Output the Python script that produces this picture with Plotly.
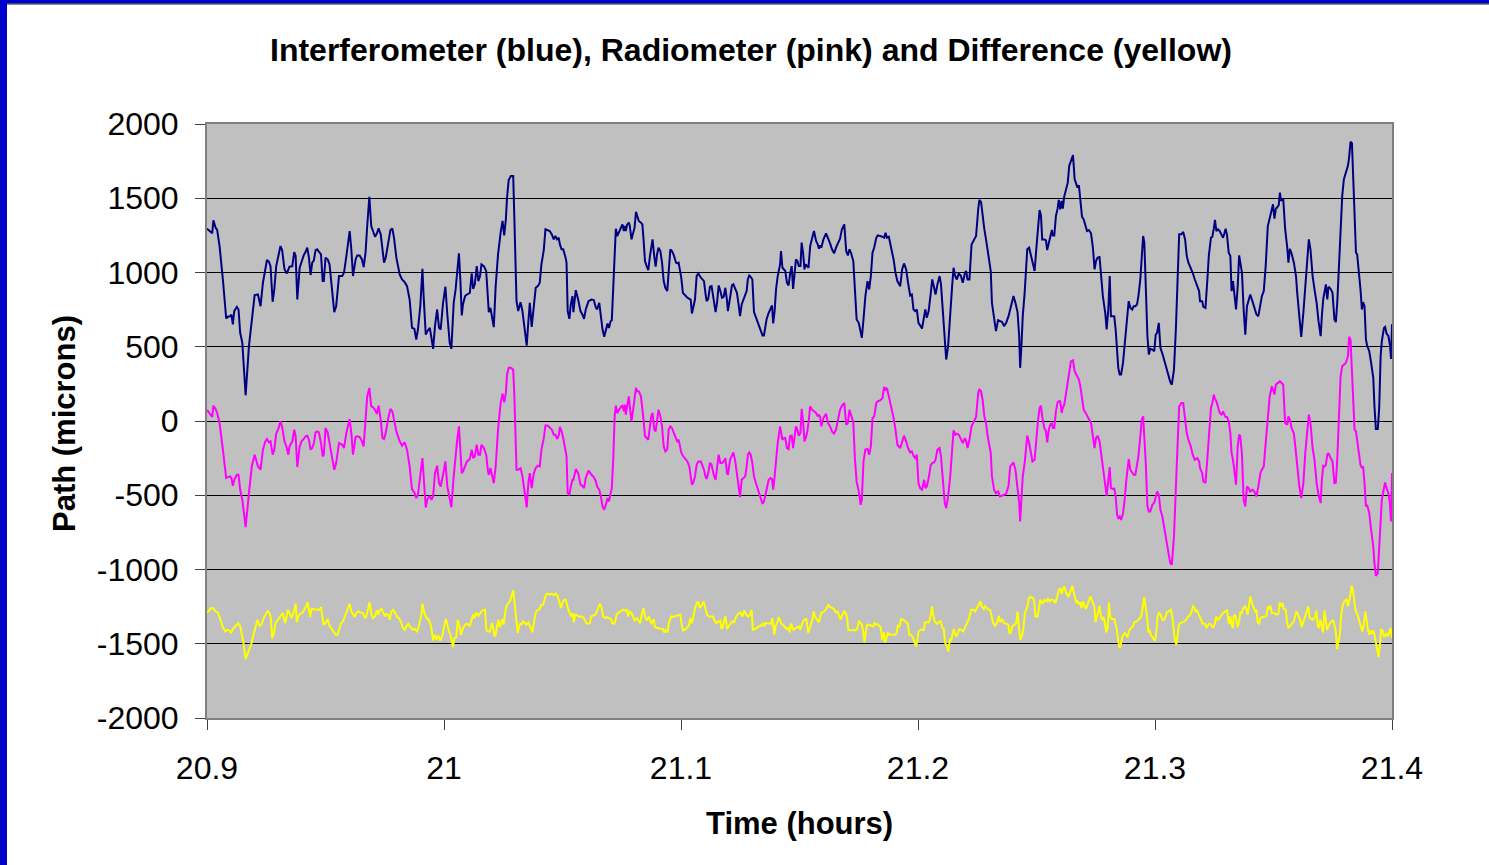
import plotly.graph_objects as go

# Sample times (hours) shared by the interferometer and radiometer traces
time_hours = [
    20.9000, 20.9022, 20.9027, 20.9036, 20.9043, 20.9053, 20.9067, 20.9081, 20.9088, 20.9098,
    20.9103, 20.9109, 20.9115, 20.9126, 20.9133, 20.9140, 20.9149, 20.9163, 20.9177, 20.9189,
    20.9201, 20.9215, 20.9226, 20.9236, 20.9246, 20.9253, 20.9261, 20.9268, 20.9277, 20.9284,
    20.9292, 20.9301, 20.9310, 20.9317, 20.9327, 20.9337, 20.9343, 20.9348, 20.9360, 20.9368,
    20.9374, 20.9381, 20.9391, 20.9399, 20.9408, 20.9416, 20.9423, 20.9430, 20.9437, 20.9444,
    20.9451, 20.9458, 20.9465, 20.9472, 20.9481, 20.9488, 20.9493, 20.9500, 20.9509, 20.9517,
    20.9529, 20.9537, 20.9545, 20.9557, 20.9571, 20.9578, 20.9588, 20.9602, 20.9609, 20.9616,
    20.9627, 20.9634, 20.9644, 20.9654, 20.9661, 20.9669, 20.9676, 20.9685, 20.9693, 20.9700,
    20.9709, 20.9717, 20.9724, 20.9733, 20.9740, 20.9747, 20.9754, 20.9765, 20.9774, 20.9782,
    20.9789, 20.9799, 20.9813, 20.9823, 20.9834, 20.9844, 20.9855,
    20.9865, 20.9875, 20.9883, 20.9890, 20.9900, 20.9909, 20.9914, 20.9923, 20.9930, 20.9940,
    20.9947, 20.9954, 20.9962, 20.9971, 20.9979, 20.9986, 20.9996, 21.0006, 21.0014, 21.0024,
    21.0031, 21.0041, 21.0049, 21.0055, 21.0063, 21.0069, 21.0075, 21.0080, 21.0089, 21.0097,
    21.0109, 21.0117, 21.0123, 21.0130, 21.0138, 21.0145, 21.0152, 21.0158, 21.0168, 21.0178,
    21.0185, 21.0189, 21.0196, 21.0203, 21.0210, 21.0218, 21.0228, 21.0239, 21.0247, 21.0254,
    21.0261, 21.0266, 21.0273, 21.0282, 21.0292, 21.0297, 21.0306, 21.0313, 21.0323, 21.0331,
    21.0341, 21.0349, 21.0356, 21.0362, 21.0370, 21.0379, 21.0387, 21.0396, 21.0404, 21.0411,
    21.0421, 21.0428, 21.0437, 21.0446, 21.0455, 21.0463, 21.0470, 21.0477, 21.0484, 21.0489,
    21.0496, 21.0503, 21.0513, 21.0517, 21.0522, 21.0529, 21.0535, 21.0542, 21.0546, 21.0556,
    21.0566, 21.0576, 21.0584, 21.0591, 21.0598, 21.0610, 21.0622, 21.0632, 21.0641, 21.0646,
    21.0655, 21.0662, 21.0669, 21.0676, 21.0683, 21.0690, 21.0696, 21.0700,
    21.0703, 21.0708, 21.0714, 21.0720, 21.0725, 21.0731, 21.0739, 21.0748, 21.0753, 21.0759,
    21.0763, 21.0767, 21.0773, 21.0780, 21.0784, 21.0791, 21.0798, 21.0804, 21.0810, 21.0815,
    21.0822, 21.0831, 21.0837, 21.0842, 21.0848, 21.0855, 21.0862, 21.0869, 21.0874, 21.0880,
    21.0887, 21.0893, 21.0899, 21.0905, 21.0913, 21.0920, 21.0927, 21.0934, 21.0942, 21.0948,
    21.0955, 21.0962, 21.0970, 21.0979, 21.0984, 21.0990, 21.0996, 21.1001, 21.1008, 21.1017,
    21.1027, 21.1035, 21.1041, 21.1046, 21.1052, 21.1059, 21.1066, 21.1073, 21.1084, 21.1097,
    21.1103, 21.1108, 21.1115, 21.1122, 21.1129, 21.1138, 21.1146, 21.1152, 21.1159, 21.1166,
    21.1173, 21.1180, 21.1187, 21.1194, 21.1198, 21.1207, 21.1215, 21.1221, 21.1229, 21.1236,
    21.1243, 21.1249, 21.1256, 21.1263, 21.1271, 21.1277, 21.1282, 21.1288, 21.1294, 21.1301,
    21.1308, 21.1316, 21.1326, 21.1336, 21.1344, 21.1350, 21.1355, 21.1361, 21.1370, 21.1378,
    21.1384, 21.1389, 21.1395, 21.1401, 21.1408, 21.1418, 21.1422, 21.1428, 21.1435, 21.1440,
    21.1447, 21.1454, 21.1460, 21.1467, 21.1473, 21.1480, 21.1485, 21.1491, 21.1497, 21.1504,
    21.1509, 21.1515, 21.1521, 21.1526, 21.1532, 21.1538, 21.1545,
    21.1553, 21.1561, 21.1570, 21.1577, 21.1582, 21.1587, 21.1592, 21.1601, 21.1612, 21.1620,
    21.1629, 21.1637, 21.1646, 21.1654, 21.1663, 21.1671, 21.1679, 21.1689, 21.1697, 21.1704,
    21.1711, 21.1718, 21.1727, 21.1734, 21.1741, 21.1750, 21.1758, 21.1763, 21.1770, 21.1778,
    21.1787, 21.1794, 21.1801, 21.1808, 21.1815, 21.1824, 21.1830, 21.1840, 21.1850, 21.1857,
    21.1863, 21.1869, 21.1877, 21.1885, 21.1897, 21.1905, 21.1913, 21.1925, 21.1933, 21.1941,
    21.1950, 21.1958, 21.1967, 21.1974, 21.1981, 21.1988, 21.1995, 21.2002, 21.2009, 21.2017,
    21.2026, 21.2031, 21.2037, 21.2045, 21.2054, 21.2060, 21.2068, 21.2074, 21.2082, 21.2091,
    21.2097, 21.2105, 21.2113, 21.2119, 21.2127, 21.2136, 21.2144, 21.2150, 21.2157, 21.2164,
    21.2172, 21.2181, 21.2189, 21.2198, 21.2203, 21.2209, 21.2217, 21.2226, 21.2237, 21.2245,
    21.2254, 21.2259, 21.2266, 21.2273, 21.2280, 21.2287, 21.2294, 21.2301, 21.2307, 21.2312,
    21.2321, 21.2329, 21.2338, 21.2346, 21.2355, 21.2363, 21.2372, 21.2382, 21.2389,
    21.2403, 21.2411, 21.2420, 21.2427, 21.2431, 21.2437, 21.2442, 21.2450, 21.2455, 21.2461,
    21.2469, 21.2476, 21.2483, 21.2492, 21.2499, 21.2506, 21.2513, 21.2519, 21.2524, 21.2533,
    21.2540, 21.2545, 21.2552, 21.2558, 21.2565, 21.2569, 21.2575, 21.2582, 21.2589, 21.2594,
    21.2600, 21.2606, 21.2611, 21.2617, 21.2625, 21.2632, 21.2638, 21.2645, 21.2654, 21.2661,
    21.2668, 21.2673, 21.2679, 21.2685, 21.2692, 21.2699, 21.2706, 21.2713, 21.2721, 21.2730,
    21.2738, 21.2745, 21.2751, 21.2758, 21.2766, 21.2772, 21.2780, 21.2790, 21.2796, 21.2803,
    21.2809, 21.2814, 21.2823, 21.2828, 21.2834, 21.2840, 21.2845, 21.2851, 21.2857, 21.2865,
    21.2872, 21.2879, 21.2889, 21.2896, 21.2904, 21.2910, 21.2917, 21.2924, 21.2930, 21.2938,
    21.2944, 21.2950, 21.2955, 21.2961, 21.2968, 21.2974, 21.2980, 21.2989, 21.2997, 21.3003,
    21.3009, 21.3016, 21.3023, 21.3031, 21.3040, 21.3048, 21.3057, 21.3065, 21.3071, 21.3080,
    21.3088, 21.3095, 21.3102, 21.3111, 21.3119, 21.3127, 21.3134, 21.3141, 21.3151, 21.3159,
    21.3168, 21.3179, 21.3186, 21.3190, 21.3199, 21.3204, 21.3213, 21.3221, 21.3227, 21.3236,
    21.3242, 21.3248, 21.3253, 21.3259, 21.3266, 21.3273, 21.3281, 21.3287, 21.3293, 21.3298,
    21.3304, 21.3311, 21.3318, 21.3323, 21.3329, 21.3335, 21.3342, 21.3349, 21.3355, 21.3360,
    21.3367, 21.3374, 21.3381, 21.3388, 21.3395, 21.3402, 21.3411, 21.3419, 21.3428, 21.3436,
    21.3445, 21.3451, 21.3459, 21.3467, 21.3476, 21.3484, 21.3493, 21.3498, 21.3504, 21.3510,
    21.3515, 21.3522, 21.3527, 21.3532, 21.3541, 21.3549, 21.3558, 21.3563, 21.3569, 21.3576,
    21.3586, 21.3595, 21.3600, 21.3609, 21.3617, 21.3626, 21.3634, 21.3642, 21.3649, 21.3656,
    21.3665, 21.3673, 21.3682, 21.3690, 21.3699, 21.3704, 21.3710, 21.3716, 21.3721, 21.3727,
    21.3732, 21.3741, 21.3749, 21.3757, 21.3763, 21.3769, 21.3774, 21.3783, 21.3790, 21.3797,
    21.3805, 21.3814, 21.3819, 21.3825, 21.3831, 21.3836, 21.3842, 21.3848, 21.3853, 21.3860,
    21.3867, 21.3873, 21.3878, 21.3884, 21.3890, 21.3895, 21.3904, 21.3912, 21.3921, 21.3926,
    21.3932, 21.3940, 21.3946, 21.3952, 21.3957, 21.3966, 21.3971, 21.3977, 21.3985, 21.3991,
    21.3996, 21.4000,
]

# Interferometer path (microns)
interferometer = [
    1295, 1264, 1351, 1302, 1286, 1178, 953, 690, 702, 706,
    717, 650, 740, 769, 751, 594, 526, 173, 504, 684,
    848, 852, 773, 931, 1021, 1084, 1073, 1043, 803, 886,
    1043, 1115, 1178, 1151, 1021, 994, 1021, 1039, 1043, 1138,
    1111, 818, 1032, 1077, 1115, 1140, 1167, 1100, 983, 1066,
    1082, 1151, 1156, 1140, 1122, 942, 942, 1100, 1088, 1055,
    886, 733, 773, 976, 976, 998, 1111, 1279, 1156, 976,
    1088, 1115, 1115, 1088, 1037, 1133, 1313, 1509, 1313, 1284,
    1241, 1264, 1297, 1257, 1156, 1066, 1100, 1189, 1286, 1297,
    1234, 1100, 987, 953, 935, 908, 818,
    627, 621, 549, 616, 773, 1025, 841, 582, 605, 627,
    560, 486, 639, 751, 627, 616, 796, 904, 717, 526,
    486, 796, 886, 976, 1129, 953, 711, 785, 841, 852,
    863, 994, 890, 920, 1043, 942, 976, 1055, 1043, 1010,
    796, 733, 762, 706, 632, 908, 1122, 1268, 1347, 1250,
    1358, 1504, 1623, 1650, 1650, 1358, 807, 740, 800, 740,
    616, 508, 672, 796, 634, 796, 897, 908, 931, 1055,
    1151, 1291, 1286, 1279, 1257, 1223, 1246, 1223, 1234, 1189,
    1156, 1156, 1100, 1066, 740, 688, 785, 841, 733, 881,
    818, 740, 717, 688, 751, 807, 818, 814, 762, 751,
    796, 706, 616, 567, 605, 657, 627, 666,
    672, 679, 886, 1156, 1295, 1246, 1279, 1313, 1324, 1279,
    1313, 1279, 1324, 1336, 1313, 1223, 1268, 1302, 1408, 1376,
    1347, 1336, 1324, 1223, 1077, 1043, 1016, 1111, 1156, 1223,
    1111, 1039, 1122, 1167, 1144, 1066, 942, 897, 875, 1021,
    1156, 1144, 1115, 1066, 1061, 1066, 1010, 965, 863, 845,
    830, 823, 818, 724, 762, 818, 976, 994, 965, 942,
    863, 807, 823, 904, 908, 807, 733, 796, 913, 875,
    830, 836, 897, 814, 740, 830, 913, 920, 881, 863,
    785, 706, 785, 818, 852, 875, 953, 980, 971, 953,
    733, 695, 650, 605, 576, 576, 627, 684, 729, 762,
    778, 657, 740, 886, 976, 1055, 1144, 1032, 1021, 1010,
    931, 913, 987, 1043, 890, 998, 1088, 1077, 1043, 1043,
    1201, 1133, 1021, 1055, 1043, 1032, 1178,
    1223, 1279, 1212, 1189, 1160, 1183, 1167, 1223, 1264, 1234,
    1196, 1156, 1129, 1167, 1201, 1228, 1291, 1324, 1144, 1115,
    1156, 1129, 1077, 886, 684, 661, 605, 560, 684, 841,
    942, 886, 976, 1133, 1167, 1234, 1250, 1246, 1241, 1234,
    1268, 1234, 1241, 1178, 1088, 998, 942, 908, 1021, 1061,
    1021, 931, 845, 852, 751, 740, 751, 661, 639, 623,
    706, 751, 695, 740, 863, 953, 897, 852, 920, 976,
    920, 706, 526, 414, 504, 751, 908, 1032, 976, 953,
    994, 976, 931, 998, 1010, 953, 953, 1189, 1223, 1246,
    1426, 1489, 1475, 1369, 1291, 1223, 1156, 1077, 1010, 796,
    672, 605, 679, 672, 666, 639, 661, 706, 751,
    841, 796, 733, 571, 358, 526, 706, 863, 1021, 1156,
    1167, 1115, 1066, 1010, 1156, 1291, 1421, 1381, 1223, 1223,
    1216, 1151, 1201, 1250, 1286, 1250, 1250, 1381, 1430, 1489,
    1426, 1482, 1430, 1511, 1560, 1605, 1718, 1752, 1790, 1628,
    1583, 1572, 1587, 1493, 1376, 1358, 1313, 1279, 1286, 1264,
    1167, 1021, 1077, 1100, 1104, 976, 841, 729, 616, 751,
    976, 706, 706, 706, 616, 481, 358, 313, 313, 391,
    526, 661, 807, 762, 751, 773, 773, 785, 841, 953,
    1111, 1246, 1201, 931, 571, 447, 486, 481, 470, 582,
    594, 661, 492, 454, 402, 351, 306, 261, 245, 346,
    616, 976, 1257, 1257, 1273, 1223, 1111, 1066, 1032, 998,
    953, 913, 875, 807, 807, 769, 762, 953, 1111, 1234,
    1241, 1295, 1354, 1279, 1291, 1279, 1250, 1234, 1264, 1295,
    1250, 1133, 1111, 875, 942, 841, 751, 908, 1115, 1066,
    998, 751, 582, 773, 818, 852, 807, 762, 717, 706,
    796, 841, 875, 1043, 1313, 1369, 1444, 1459, 1363, 1430,
    1437, 1453, 1538, 1482, 1498, 1295, 1167, 1066, 1160, 1129,
    1066, 976, 863, 684, 567, 729, 920, 1111, 1223, 1156,
    976, 886, 796, 672, 571, 706, 823, 875, 920, 818,
    904, 890, 863, 684, 666, 796, 998, 1291, 1516, 1628,
    1673, 1718, 1774, 1880, 1871, 1650, 1291, 1133, 1122, 1021,
    886, 751, 800, 773, 549, 508, 470, 391, 290, 99,
    -54, -54, 88, 436, 537, 627, 634, 589, 571, 515,
    418, 651,
]

# Radiometer path (microns)
radiometer = [
    76, 27, 103, 81, 54, -13, -193, -384, -378, -373,
    -384, -436, -396, -362, -362, -463, -531, -715, -486, -306,
    -227, -306, -328, -193, -137, -121, -144, -137, -227, -193,
    -85, -54, -2, -40, -137, -182, -227, -171, -137, -58,
    -103, -310, -171, -137, -121, -103, -99, -126, -193, -182,
    -148, -76, -70, -76, -148, -238, -227, -47, -76, -148,
    -261, -328, -283, -148, -160, -182, -81, 13, -81, -227,
    -108, -103, -108, -137, -171, -13, 166, 223, 99, 94,
    76, 49, 103, 9, -115, -121, -81, 20, 81, 65,
    9, -70, -137, -166, -144, -193, -306,
    -459, -481, -519, -497, -373, -250, -373, -582, -526, -504,
    -531, -508, -351, -301, -418, -441, -362, -272, -441, -531,
    -582, -373, -227, -137, -36, -193, -351, -340, -306, -272,
    -256, -193, -250, -238, -160, -227, -227, -160, -182, -227,
    -333, -362, -317, -373, -418, -306, -58, 121, 184, 126,
    189, 313, 358, 358, 346, 166, -328, -328, -317, -373,
    -486, -582, -418, -351, -452, -351, -317, -301, -306, -193,
    -115, -31, -31, -47, -58, -92, -92, -121, -99, -40,
    -70, -115, -198, -238, -486, -497, -441, -396, -396, -324,
    -351, -429, -436, -452, -384, -333, -362, -378, -407, -441,
    -463, -508, -576, -598, -564, -519, -542, -519,
    -486, -452, -261, 31, 103, 54, 76, 99, 103, 65,
    110, 43, 103, 166, 99, -2, 76, 144, 223, 200,
    200, 166, 99, 9, -103, -115, -126, -36, 31, 54,
    -58, -70, 9, 76, 31, -36, -171, -205, -193, -58,
    -36, -47, -81, -115, -137, -126, -171, -211, -234, -250,
    -272, -306, -391, -429, -414, -373, -295, -272, -272, -328,
    -373, -391, -351, -283, -295, -362, -396, -317, -227, -283,
    -283, -272, -250, -351, -362, -261, -227, -211, -272, -351,
    -429, -513, -396, -384, -373, -306, -227, -211, -227, -283,
    -373, -418, -463, -519, -558, -542, -497, -463, -396, -384,
    -391, -463, -373, -250, -148, -36, -70, -126, -115, -115,
    -182, -189, -103, -99, -182, -103, -36, -58, -99, -81,
    81, -2, -137, -115, -81, -13, 99,
    76, 65, 54, 31, 43, 27, -36, 20, 49, -13,
    -36, -70, -85, -58, 9, 76, 103, 121, -25, -13,
    76, 43, -9, -261, -407, -474, -564, -531, -272, -193,
    -189, -227, -171, 20, 31, 121, 133, 139, 155, 229,
    211, 223, 166, 99, 20, -58, -160, -182, -137, -99,
    -137, -182, -211, -205, -234, -250, -227, -418, -452, -463,
    -396, -452, -441, -384, -295, -283, -279, -261, -193, -182,
    -238, -418, -553, -587, -508, -373, -171, -63, -92, -85,
    -92, -126, -148, -115, -137, -182, -126, -36, -2, 27,
    189, 211, 200, 139, 31, -13, -103, -160, -216, -373,
    -463, -486, -474, -508, -504, -497, -490, -436, -306,
    -279, -328, -441, -553, -677, -531, -373, -283, -182, -99,
    -148, -227, -272, -261, -103, -2, 88, 103, 31, -47,
    -70, -144, -58, -25, -13, -47, -47, 65, 126, 133,
    133, 54, 88, 110, 189, 268, 346, 402, 409, 335,
    313, 301, 279, 234, 133, 76, 58, 36, 20, -13,
    -103, -182, -115, -99, -137, -216, -306, -418, -504, -396,
    -310, -452, -459, -452, -508, -632, -654, -643, -666, -621,
    -531, -396, -256, -328, -351, -362, -362, -306, -238, -103,
    9, 31, -103, -283, -576, -609, -609, -564, -549, -519,
    -474, -497, -598, -643, -733, -823, -890, -958, -969, -778,
    -508, -171, 99, 121, 121, 9, -81, -126, -171, -227,
    -261, -250, -272, -317, -351, -407, -418, -250, -81, 88,
    121, 178, 148, 133, 94, 54, 43, 65, 43, 27,
    27, -2, -81, -216, -261, -351, -429, -171, -92, -103,
    -227, -531, -576, -441, -452, -474, -463, -474, -508, -441,
    -351, -328, -306, -148, 31, 166, 234, 200, 178, 245,
    252, 261, 268, 261, 245, -13, -25, 31, 9, -47,
    -85, -216, -306, -441, -519, -418, -216, -47, 43, -13,
    -182, -261, -418, -497, -553, -396, -301, -306, -295, -227,
    -216, -250, -272, -418, -414, -261, -13, 301, 369, 380,
    391, 436, 567, 549, 346, 76, -58, -70, -126, -216,
    -295, -317, -306, -418, -576, -564, -621, -733, -845, -958,
    -1043, -1025, -845, -621, -531, -452, -414, -452, -486, -553,
    -677, -351,
]

# Sample times (hours) for the difference trace
time_diff = [
    20.9000, 20.9008, 20.9019, 20.9027, 20.9036, 20.9047, 20.9056, 20.9067, 20.9078, 20.9087,
    20.9095, 20.9101, 20.9109, 20.9120, 20.9132, 20.9140, 20.9146, 20.9154, 20.9163, 20.9172,
    20.9179, 20.9188, 20.9196, 20.9205, 20.9213, 20.9222, 20.9229, 20.9239, 20.9247, 20.9256,
    20.9264, 20.9270, 20.9275, 20.9281, 20.9289, 20.9298, 20.9306, 20.9315, 20.9320, 20.9329,
    20.9334, 20.9341, 20.9348, 20.9357, 20.9365, 20.9374, 20.9379, 20.9385, 20.9393, 20.9402,
    20.9410, 20.9419, 20.9424, 20.9430, 20.9436, 20.9441, 20.9455, 20.9472, 20.9481, 20.9486,
    20.9492, 20.9500, 20.9509, 20.9517, 20.9526, 20.9534, 20.9543, 20.9551, 20.9557, 20.9565,
    20.9574, 20.9582, 20.9591, 20.9596, 20.9602, 20.9609, 20.9616, 20.9623, 20.9630, 20.9638,
    20.9647, 20.9658, 20.9667, 20.9672, 20.9679, 20.9686, 20.9693, 20.9700, 20.9709, 20.9717,
    20.9723, 20.9728, 20.9737, 20.9743, 20.9751, 20.9757, 20.9765, 20.9771, 20.9778, 20.9785,
    20.9793, 20.9802, 20.9810, 20.9819, 20.9827, 20.9835, 20.9841, 20.9850, 20.9858, 20.9869,
    20.9878, 20.9886, 20.9892, 20.9900, 20.9906, 20.9909, 20.9917, 20.9926, 20.9937, 20.9945,
    20.9954, 20.9961, 20.9968, 20.9976, 20.9985, 20.9993, 21.0002, 21.0007, 21.0013, 21.0019,
    21.0027, 21.0033, 21.0038, 21.0044, 21.0052, 21.0058, 21.0064, 21.0072, 21.0080, 21.0089,
    21.0097, 21.0109, 21.0117, 21.0123, 21.0128, 21.0137, 21.0145, 21.0154, 21.0162, 21.0173,
    21.0179, 21.0185, 21.0193, 21.0202, 21.0207, 21.0213, 21.0218, 21.0224, 21.0230, 21.0235,
    21.0241, 21.0247, 21.0252, 21.0261, 21.0269, 21.0280, 21.0292, 21.0297, 21.0306, 21.0311,
    21.0317, 21.0323, 21.0328, 21.0334, 21.0342, 21.0348, 21.0356, 21.0365, 21.0373, 21.0379,
    21.0387, 21.0396, 21.0404, 21.0410, 21.0418, 21.0430, 21.0438, 21.0446, 21.0455, 21.0463,
    21.0472, 21.0480, 21.0489, 21.0494, 21.0500, 21.0508, 21.0514, 21.0519, 21.0525, 21.0531,
    21.0536, 21.0542, 21.0548, 21.0553, 21.0559, 21.0568, 21.0582, 21.0590, 21.0596, 21.0601,
    21.0607, 21.0615, 21.0621, 21.0629, 21.0638, 21.0643, 21.0652, 21.0658,
    21.0665, 21.0672, 21.0679, 21.0688, 21.0696, 21.0705, 21.0710, 21.0718, 21.0724, 21.0729,
    21.0738, 21.0746, 21.0755, 21.0763, 21.0771, 21.0777, 21.0783, 21.0791, 21.0800, 21.0805,
    21.0814, 21.0822, 21.0828, 21.0834, 21.0842, 21.0848, 21.0856, 21.0865, 21.0870, 21.0876,
    21.0885, 21.0890, 21.0898, 21.0907, 21.0915, 21.0924, 21.0929, 21.0935, 21.0943, 21.0949,
    21.0958, 21.0966, 21.0974, 21.0983, 21.0991, 21.0997, 21.1002, 21.1008, 21.1016, 21.1025,
    21.1033, 21.1039, 21.1045, 21.1050, 21.1059, 21.1067, 21.1073, 21.1079, 21.1087, 21.1095,
    21.1101, 21.1110, 21.1118, 21.1126, 21.1135, 21.1141, 21.1149, 21.1160, 21.1166, 21.1171,
    21.1177, 21.1183, 21.1188, 21.1194, 21.1200, 21.1205, 21.1211, 21.1217, 21.1225, 21.1233,
    21.1242, 21.1250, 21.1259, 21.1267, 21.1275, 21.1284, 21.1289, 21.1298, 21.1303, 21.1312,
    21.1320, 21.1329, 21.1337, 21.1346, 21.1351, 21.1357, 21.1365, 21.1371, 21.1380, 21.1385,
    21.1394, 21.1399, 21.1408, 21.1413, 21.1422, 21.1430, 21.1439, 21.1447, 21.1453, 21.1459,
    21.1464, 21.1470, 21.1475, 21.1484, 21.1498, 21.1503, 21.1512, 21.1520, 21.1529, 21.1537,
    21.1546, 21.1554, 21.1560, 21.1565, 21.1574, 21.1582, 21.1591, 21.1596, 21.1605, 21.1610,
    21.1616, 21.1622, 21.1630, 21.1639, 21.1647, 21.1653, 21.1661, 21.1667, 21.1673, 21.1678,
    21.1684, 21.1689, 21.1695, 21.1701, 21.1706, 21.1712, 21.1723, 21.1734, 21.1743, 21.1751,
    21.1757, 21.1763, 21.1768, 21.1774, 21.1779, 21.1785, 21.1794, 21.1802, 21.1811, 21.1816,
    21.1822, 21.1828, 21.1836, 21.1842, 21.1850, 21.1856, 21.1861, 21.1867, 21.1873, 21.1881,
    21.1893, 21.1904, 21.1910, 21.1915, 21.1921, 21.1929, 21.1938, 21.1946, 21.1952, 21.1957,
    21.1963, 21.1971, 21.1980, 21.1985, 21.1991, 21.1997, 21.2002, 21.2011, 21.2025, 21.2030,
    21.2047, 21.2053, 21.2059, 21.2064, 21.2070, 21.2078, 21.2087, 21.2095, 21.2103, 21.2109,
    21.2114, 21.2123, 21.2128, 21.2134, 21.2140, 21.2145, 21.2151, 21.2157, 21.2162, 21.2168,
    21.2174, 21.2182, 21.2190, 21.2199, 21.2207, 21.2216, 21.2224, 21.2233, 21.2241, 21.2250,
    21.2258, 21.2264, 21.2269, 21.2278, 21.2283, 21.2294, 21.2305, 21.2311, 21.2317, 21.2325,
    21.2333, 21.2341, 21.2347, 21.2353, 21.2358, 21.2364, 21.2372, 21.2381, 21.2386, 21.2392,
    21.2397, 21.2406, 21.2414, 21.2420, 21.2425, 21.2431, 21.2440, 21.2445, 21.2451, 21.2457,
    21.2462, 21.2468, 21.2476, 21.2485, 21.2490, 21.2496, 21.2504, 21.2510, 21.2516, 21.2521,
    21.2527, 21.2535, 21.2544, 21.2549, 21.2555, 21.2563, 21.2572, 21.2580, 21.2586, 21.2594,
    21.2600, 21.2606, 21.2611, 21.2617, 21.2623, 21.2628, 21.2634, 21.2639, 21.2645, 21.2651,
    21.2656, 21.2662, 21.2668, 21.2673, 21.2679, 21.2684, 21.2690, 21.2696, 21.2701, 21.2707,
    21.2713, 21.2718, 21.2727, 21.2732, 21.2738, 21.2744, 21.2749, 21.2755, 21.2761, 21.2766,
    21.2772, 21.2777, 21.2783, 21.2789, 21.2794, 21.2800, 21.2806, 21.2811, 21.2817, 21.2828,
    21.2834, 21.2839, 21.2845, 21.2851, 21.2856, 21.2862, 21.2867, 21.2873, 21.2879, 21.2884,
    21.2893, 21.2901, 21.2907, 21.2913, 21.2924, 21.2932, 21.2938, 21.2943, 21.2949, 21.2955,
    21.2960, 21.2966, 21.2972, 21.2977, 21.2983, 21.2988, 21.2994, 21.3000, 21.3005, 21.3011,
    21.3017, 21.3025, 21.3031, 21.3039, 21.3045, 21.3050, 21.3059, 21.3067, 21.3073, 21.3078,
    21.3084, 21.3090, 21.3095, 21.3101, 21.3107, 21.3115, 21.3124, 21.3132, 21.3138, 21.3146,
    21.3155, 21.3160, 21.3166, 21.3171, 21.3177, 21.3185, 21.3191, 21.3197, 21.3202, 21.3211,
    21.3217, 21.3222, 21.3228, 21.3236, 21.3245, 21.3253, 21.3259, 21.3264, 21.3270, 21.3276,
    21.3281, 21.3290, 21.3298, 21.3304, 21.3310, 21.3315, 21.3318, 21.3324, 21.3329, 21.3332,
    21.3338, 21.3343, 21.3349, 21.3355, 21.3360, 21.3366, 21.3371, 21.3380, 21.3386, 21.3391,
    21.3397, 21.3402, 21.3408, 21.3414, 21.3422, 21.3428, 21.3433, 21.3439, 21.3445, 21.3453,
    21.3470, 21.3476, 21.3481, 21.3487, 21.3493, 21.3504, 21.3512, 21.3521, 21.3526, 21.3532,
    21.3538, 21.3543, 21.3552, 21.3557, 21.3563, 21.3571, 21.3580, 21.3586, 21.3591, 21.3597,
    21.3602, 21.3608, 21.3614, 21.3619, 21.3625, 21.3633, 21.3642, 21.3647, 21.3653, 21.3664,
    21.3676, 21.3681, 21.3687, 21.3692, 21.3698, 21.3704, 21.3709, 21.3715, 21.3721, 21.3726,
    21.3732, 21.3738, 21.3746, 21.3752, 21.3757, 21.3763, 21.3768, 21.3774, 21.3780, 21.3785,
    21.3791, 21.3797, 21.3802, 21.3808, 21.3814, 21.3819, 21.3825, 21.3830, 21.3836, 21.3842,
    21.3847, 21.3853, 21.3859, 21.3864, 21.3870, 21.3875, 21.3881, 21.3887, 21.3892, 21.3898,
    21.3904, 21.3909, 21.3915, 21.3921, 21.3926, 21.3932, 21.3937, 21.3943, 21.3949, 21.3954,
    21.3960, 21.3966, 21.3971, 21.3977, 21.3983, 21.3988, 21.3994, 21.4000,
]

# Interferometer minus radiometer, offset (microns)
difference = [
    -1289, -1275, -1259, -1262, -1282, -1293, -1338, -1388, -1417, -1406,
    -1412, -1428, -1401, -1383, -1361, -1383, -1428, -1496, -1603, -1563,
    -1540, -1496, -1439, -1383, -1338, -1379, -1372, -1327, -1304, -1280,
    -1293, -1338, -1462, -1439, -1361, -1338, -1320, -1304, -1293, -1361,
    -1334, -1271, -1293, -1327, -1289, -1230, -1356, -1316, -1298, -1293,
    -1271, -1248, -1219, -1259, -1320, -1266, -1271, -1273, -1253, -1316,
    -1372, -1361, -1334, -1379, -1401, -1424, -1439, -1439, -1406, -1365,
    -1349, -1316, -1271, -1248, -1230, -1282, -1298, -1320, -1293, -1282,
    -1289, -1293, -1327, -1316, -1271, -1221, -1293, -1327, -1316, -1275,
    -1304, -1275, -1266, -1289, -1316, -1298, -1304, -1338, -1282, -1271,
    -1289, -1320, -1327, -1356, -1394, -1406, -1383, -1365, -1388, -1406,
    -1401, -1417, -1394, -1338, -1289, -1230, -1293, -1327, -1343, -1379,
    -1478, -1439, -1473, -1446, -1478, -1446, -1379, -1334, -1361, -1406,
    -1439, -1478, -1522, -1462, -1455, -1338, -1372, -1439, -1394, -1372,
    -1365, -1379, -1338, -1304, -1327, -1289, -1311, -1289, -1275, -1271,
    -1406, -1417, -1417, -1361, -1388, -1451, -1439, -1379, -1338, -1388,
    -1356, -1334, -1372, -1259, -1230, -1208, -1140, -1226, -1338, -1428,
    -1383, -1361, -1372, -1349, -1361, -1372, -1356, -1388, -1424, -1361,
    -1289, -1271, -1266, -1237, -1237, -1169, -1163, -1169, -1163, -1172,
    -1163, -1181, -1230, -1259, -1221, -1203, -1203, -1237, -1271, -1293,
    -1316, -1293, -1356, -1304, -1304, -1316, -1316, -1327, -1349, -1361,
    -1365, -1361, -1316, -1311, -1304, -1289, -1248, -1230,
    -1259, -1316, -1327, -1320, -1327, -1334, -1361, -1365, -1338, -1298,
    -1289, -1280, -1271, -1275, -1271, -1316, -1282, -1293, -1327, -1343,
    -1327, -1343, -1361, -1304, -1259, -1316, -1343, -1316, -1349, -1361,
    -1334, -1388, -1394, -1394, -1401, -1401, -1424, -1406, -1424, -1361,
    -1316, -1320, -1316, -1311, -1304, -1304, -1361, -1410, -1406, -1394,
    -1379, -1327, -1361, -1338, -1259, -1226, -1217, -1259, -1244, -1214,
    -1253, -1304, -1316, -1316, -1316, -1343, -1361, -1349, -1343, -1401,
    -1383, -1334, -1316, -1401, -1383, -1372, -1361, -1349, -1356, -1316,
    -1298, -1289, -1316, -1275, -1304, -1316, -1311, -1271, -1406, -1401,
    -1394, -1383, -1379, -1361, -1383, -1361, -1361, -1365, -1365, -1327,
    -1439, -1379, -1349, -1320, -1361, -1372, -1388, -1401, -1394, -1424,
    -1365, -1394, -1406, -1394, -1383, -1406, -1361, -1338, -1334, -1428,
    -1379, -1338, -1282, -1316, -1338, -1356, -1293, -1289, -1282, -1271,
    -1259, -1239, -1253, -1259, -1271, -1289, -1282, -1304, -1338, -1316,
    -1298, -1282, -1293, -1327, -1406, -1410, -1406, -1410, -1401, -1349,
    -1356, -1372, -1410, -1491, -1428, -1372, -1372, -1379, -1383, -1361,
    -1372, -1365, -1379, -1388, -1478, -1424, -1491, -1462, -1428, -1439,
    -1439, -1439, -1428, -1379, -1383, -1334, -1338, -1349, -1356, -1365,
    -1439, -1439, -1462, -1491, -1518, -1484, -1417, -1406, -1406, -1356,
    -1356, -1316, -1248, -1304, -1349, -1365, -1356, -1349, -1394, -1401,
    -1491, -1522, -1552, -1473, -1478, -1439, -1401, -1439, -1451, -1428,
    -1401, -1406, -1417, -1388, -1356, -1327, -1271, -1271, -1282, -1253,
    -1226, -1214, -1253, -1266, -1248, -1266, -1275, -1316, -1361, -1379,
    -1361, -1311, -1356, -1334, -1349, -1361, -1365, -1372, -1428, -1424,
    -1383, -1372, -1365, -1282, -1361, -1473, -1439, -1394, -1293, -1266,
    -1248, -1192, -1185, -1192, -1214, -1316, -1316, -1266, -1203, -1221,
    -1226, -1203, -1214, -1199, -1214, -1203, -1208, -1226, -1185, -1140,
    -1125, -1163, -1136, -1113, -1147, -1163, -1185, -1169, -1140, -1109,
    -1147, -1185, -1226, -1214, -1230, -1221, -1259, -1214, -1244, -1266,
    -1248, -1226, -1181, -1199, -1226, -1248, -1356, -1311, -1271, -1244,
    -1320, -1334, -1320, -1361, -1424, -1394, -1221, -1320, -1334, -1334,
    -1372, -1401, -1484, -1529, -1507, -1451, -1439, -1428, -1446, -1451,
    -1406, -1394, -1383, -1356, -1349, -1334, -1327, -1304, -1248, -1185,
    -1248, -1311, -1424, -1406, -1446, -1451, -1469, -1478, -1428, -1316,
    -1289, -1311, -1338, -1338, -1316, -1289, -1280, -1271, -1316, -1410,
    -1478, -1507, -1428, -1372, -1361, -1356, -1349, -1338, -1320, -1311,
    -1282, -1248, -1253, -1282, -1275, -1304, -1327, -1356, -1365, -1365,
    -1394, -1379, -1365, -1372, -1394, -1361, -1316, -1338, -1334, -1316,
    -1304, -1289, -1282, -1271, -1349, -1365, -1316, -1383, -1388, -1316,
    -1304, -1334, -1388, -1349, -1289, -1293, -1266, -1248, -1266, -1304,
    -1226, -1181, -1221, -1248, -1282, -1271, -1356, -1365, -1327, -1320,
    -1316, -1248, -1266, -1244, -1293, -1293, -1304, -1298, -1221, -1248,
    -1226, -1266, -1271, -1349, -1394, -1379, -1365, -1349, -1316, -1282,
    -1298, -1320, -1349, -1388, -1356, -1316, -1282, -1248, -1327, -1338,
    -1320, -1275, -1383, -1388, -1338, -1394, -1424, -1275, -1361, -1406,
    -1383, -1361, -1349, -1343, -1372, -1417, -1536, -1484, -1439, -1320,
    -1248, -1221, -1214, -1199, -1248, -1214, -1163, -1109, -1147, -1226,
    -1282, -1298, -1327, -1365, -1394, -1417, -1372, -1282, -1327, -1406,
    -1439, -1410, -1433, -1410, -1439, -1500, -1552, -1590, -1507, -1406,
    -1410, -1451, -1446, -1428, -1451, -1417, -1394, -1462,
]

y_ticks = [-2000, -1500, -1000, -500, 0, 500, 1000, 1500, 2000]
y_tick_labels = ["-2000", "-1500", "-1000", "-500", "0", "500", "1000", "1500", "2000"]
x_ticks = [20.9, 21.0, 21.1, 21.2, 21.3, 21.4]
x_tick_labels = ["20.9", "21", "21.1", "21.2", "21.3", "21.4"]

assert len(time_hours) == len(interferometer) == len(radiometer)
assert len(time_diff) == len(difference)

FONT = "Liberation Sans, Arial, sans-serif"

fig = go.Figure()
fig.add_trace(go.Scatter(x=time_hours, y=interferometer, mode="lines",
                         line=dict(color="#000080", width=2), name="Interferometer"))
fig.add_trace(go.Scatter(x=time_hours, y=radiometer, mode="lines",
                         line=dict(color="#FF00FF", width=2), name="Radiometer"))
fig.add_trace(go.Scatter(x=time_diff, y=difference, mode="lines",
                         line=dict(color="#FFFF00", width=2), name="Difference"))

# plot area: x 207..1392 px, y 124..718 px
PL, PR, PT, PB = 207, 1392, 124, 718
W, H = 1489, 865


def px_x(px):
    return (px - PL) / (PR - PL)


def px_y(py):
    return (PB - py) / (PB - PT)


fig.update_layout(
    width=W, height=H,
    margin=dict(l=PL, r=W - PR, t=PT, b=H - PB, pad=0),
    paper_bgcolor="white",
    plot_bgcolor="#C0C0C0",
    showlegend=False,
    font=dict(family=FONT, color="black"),
    xaxis=dict(
        range=[20.9, 21.4], tickvals=x_ticks, ticktext=x_tick_labels,
        showgrid=False, zeroline=False,
        ticks="outside", ticklen=10, tickwidth=1, tickcolor="#404040",
        showline=True, linecolor="#808080", linewidth=2, mirror=True,
        tickfont=dict(family=FONT, size=32, color="black"),
        ticklabelstandoff=11,
    ),
    yaxis=dict(
        range=[-2000, 2000], tickvals=y_ticks, ticktext=y_tick_labels,
        showgrid=True, gridcolor="black", gridwidth=1, zeroline=False,
        ticks="outside", ticklen=10, tickwidth=1, tickcolor="#404040",
        showline=True, linecolor="#808080", linewidth=2, mirror=True,
        tickfont=dict(family=FONT, size=32, color="black"),
        ticklabelstandoff=10,
    ),
    annotations=[
        dict(text="<b>Interferometer (blue), Radiometer (pink) and Difference (yellow)</b>",
             xref="paper", yref="paper", x=px_x(751), y=px_y(50),
             xanchor="center", yanchor="middle", showarrow=False,
             font=dict(family=FONT, size=32, color="black")),
        dict(text="<b>Time (hours)</b>",
             xref="paper", yref="paper", x=px_x(799), y=px_y(823),
             xanchor="center", yanchor="middle", showarrow=False,
             font=dict(family=FONT, size=31, color="black")),
        dict(text="<b>Path (microns)</b>", textangle=-90,
             xref="paper", yref="paper", x=px_x(65), y=px_y(424),
             xanchor="center", yanchor="middle", showarrow=False,
             font=dict(family=FONT, size=31, color="black")),
    ],
    shapes=[
        # blue frame along the left and top edges of the slide
        dict(type="rect", xref="paper", yref="paper",
             x0=px_x(0), x1=px_x(7), y0=px_y(H), y1=px_y(0),
             fillcolor="#0000CC", line=dict(width=0), layer="above"),
        dict(type="rect", xref="paper", yref="paper",
             x0=px_x(0), x1=px_x(W), y0=px_y(3.5), y1=px_y(0),
             fillcolor="#0000CC", line=dict(width=0), layer="above"),
        dict(type="line", xref="paper", yref="paper",
             x0=px_x(7), x1=px_x(W), y0=px_y(4), y1=px_y(4),
             line=dict(color="#101010", width=1), layer="above"),
    ],
)

fig.write_html("out.html")
